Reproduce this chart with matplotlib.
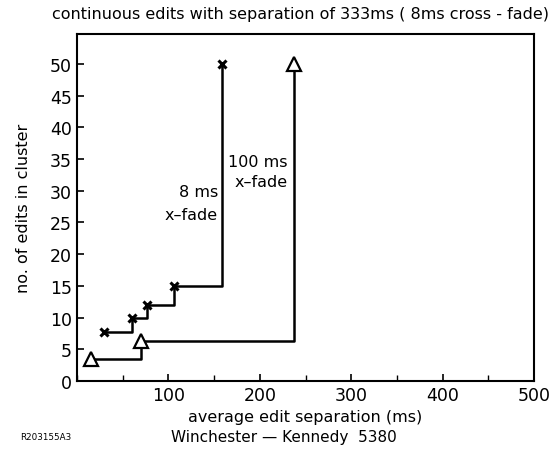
import matplotlib
matplotlib.use("Agg")
import matplotlib.pyplot as plt
from matplotlib.ticker import MultipleLocator

# 8 ms cross-fade cluster (x markers)
sep_8ms = [30, 60, 77, 106, 159]
edits_8ms = [7.7, 10, 12, 15, 50]
# 100 ms cross-fade cluster (triangles)
sep_100ms = [15, 70, 237]
edits_100ms = [3.4, 6.3, 50]

x_ticks = [100, 200, 300, 400, 500]
y_ticks = [0, 5, 10, 15, 20, 25, 30, 35, 40, 45, 50]

plt.rcParams['font.family'] = ['DejaVu Sans']
fig = plt.figure(figsize=(5.55, 4.52), dpi=100)
ax = fig.add_axes([77 / 555, 1 - 382 / 452, (534 - 77) / 555, (382 - 35) / 452])

ax.plot(sep_8ms, edits_8ms, color='black', lw=1.8, drawstyle='steps-post')
ax.plot(sep_8ms, edits_8ms, 'x', color='black', ms=6, mew=2.2)
ax.plot(sep_100ms, edits_100ms, color='black', lw=1.8, drawstyle='steps-post')
ax.plot(sep_100ms, edits_100ms, '^', color='black', mfc='white', ms=10, mew=1.6)

ax.text(154, 29.8, '8 ms', ha='right', va='center', fontsize=11.5)
ax.text(154, 26.3, 'x\u2013fade', ha='right', va='center', fontsize=11.5)
ax.text(230, 34.6, '100 ms', ha='right', va='center', fontsize=11.5)
ax.text(230, 31.4, 'x\u2013fade', ha='right', va='center', fontsize=11.5)

ax.set_xlim(0, 500)
ax.set_ylim(0, 54.7)
ax.set_xticks(x_ticks)
ax.set_yticks(y_ticks)
ax.xaxis.set_minor_locator(MultipleLocator(50))
ax.tick_params(direction='in', labelsize=12.5, width=1.2, length=5)
ax.tick_params(which='minor', direction='in', length=4, width=1.0)
for s in ax.spines.values():
    s.set_linewidth(1.5)

ax.set_xlabel('average edit separation (ms)', fontsize=11.5, labelpad=4)
ax.set_ylabel('no. of edits in cluster', fontsize=11.5, labelpad=14)
fig.text(300 / 555, 1 - 15 / 452, 'continuous edits with separation of 333ms ( 8ms cross - fade)',
         ha='center', va='center', fontsize=11.5)
fig.text(284 / 555, 1 - 438 / 452, 'Winchester \u2014 Kennedy  5380',
         ha='center', va='center', fontsize=11)
fig.text(20 / 555, 1 - 438 / 452, 'R203155A3', ha='left', va='center', fontsize=6.3)

fig.savefig('out.png', dpi=100)
